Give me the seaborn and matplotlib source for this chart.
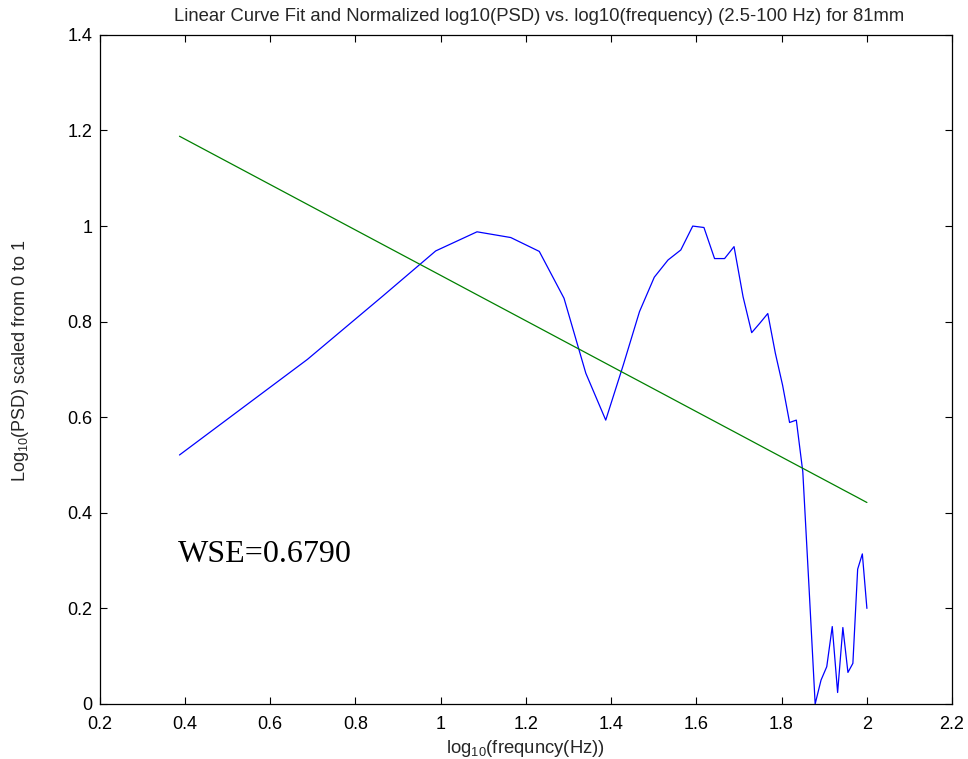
import matplotlib
matplotlib.use("Agg")
import matplotlib.pyplot as plt
import seaborn as sns
import pandas as pd

# log10 of the frequency bins (2.44 Hz spacing, 2.5-100 Hz)
log_freq = [0.3876, 0.6877, 0.8638, 0.9887, 1.0856, 1.1648, 1.2317, 1.2897,
            1.3409, 1.3876, 1.4290, 1.4668, 1.5015, 1.5337, 1.5637, 1.5917,
            1.6180, 1.6429, 1.6664, 1.6886, 1.7098, 1.7300, 1.7493, 1.7678,
            1.7855, 1.8025, 1.8189, 1.8347, 1.8499, 1.8647, 1.8789, 1.8927,
            1.9061, 1.9190, 1.9316, 1.9439, 1.9558, 1.9674, 1.9786, 1.9896,
            2.0003]

# normalized log10(PSD), scaled 0..1
psd_norm = [0.521, 0.721, 0.853, 0.948, 0.988, 0.976, 0.947, 0.849,
            0.692, 0.594, 0.710, 0.821, 0.893, 0.929, 0.950, 1.000,
            0.997, 0.932, 0.932, 0.957, 0.852, 0.777, 0.797, 0.817,
            0.734, 0.667, 0.589, 0.594, 0.486, 0.241, 0.000, 0.050,
            0.078, 0.162, 0.024, 0.160, 0.066, 0.085, 0.282, 0.314,
            0.200]

# linear fit evaluated at each bin
fit_line = [1.1880, 1.0454, 0.9617, 0.9024, 0.8563, 0.8187, 0.7869, 0.7593,
            0.7350, 0.7128, 0.6931, 0.6752, 0.6587, 0.6434, 0.6291, 0.6158,
            0.6033, 0.5915, 0.5803, 0.5698, 0.5597, 0.5501, 0.5409, 0.5321,
            0.5237, 0.5156, 0.5078, 0.5003, 0.4931, 0.4861, 0.4793, 0.4728,
            0.4664, 0.4603, 0.4543, 0.4484, 0.4428, 0.4373, 0.4320, 0.4267,
            0.4216]

wse_label = "WSE=0.6790"
x_ticks = [0.2, 0.4, 0.6, 0.8, 1.0, 1.2, 1.4, 1.6, 1.8, 2.0, 2.2]
x_tick_labels = ["0.2", "0.4", "0.6", "0.8", "1", "1.2", "1.4", "1.6", "1.8", "2", "2.2"]
y_ticks = [0, 0.2, 0.4, 0.6, 0.8, 1.0, 1.2, 1.4]
y_tick_labels = ["0", "0.2", "0.4", "0.6", "0.8", "1", "1.2", "1.4"]

sns.set_theme(style="ticks")
plt.rcParams["font.family"] = ["Liberation Sans", "DejaVu Sans"]
plt.rcParams["mathtext.fontset"] = "custom"
plt.rcParams["mathtext.rm"] = "Liberation Sans"
plt.rcParams["mathtext.it"] = "Liberation Sans:italic"

df = pd.DataFrame({"x": log_freq, "psd": psd_norm, "fit": fit_line})

fig = plt.figure(figsize=(9.68, 7.59), dpi=100)
ax = fig.add_axes([0.1028, 0.0725, 0.8807, 0.8815])

sns.lineplot(data=df, x="x", y="psd", ax=ax, color=(0, 0, 1), lw=0.9,
             estimator=None, sort=False)
sns.lineplot(data=df, x="x", y="fit", ax=ax, color=(0, 0.5, 0), lw=0.9,
             estimator=None, sort=False)

ax.set_xlim(0.2, 2.2)
ax.set_ylim(0, 1.4)
ax.set_xticks(x_ticks)
ax.set_xticklabels(x_tick_labels)
ax.set_yticks(y_ticks)
ax.set_yticklabels(y_tick_labels)

for side in ["top", "right", "bottom", "left"]:
    ax.spines[side].set_visible(True)
    ax.spines[side].set_color("black")
    ax.spines[side].set_linewidth(0.9)

ax.tick_params(axis="both", direction="in", length=5, width=0.8,
               top=True, right=True, labelsize=13, colors="black")
ax.tick_params(axis="x", pad=9)
ax.tick_params(axis="y", pad=5)

ax.set_title("Linear Curve Fit and Normalized log10(PSD) vs. log10(frequency) (2.5-100 Hz) for 81mm",
             fontsize=13.3, pad=10, x=0.516)
ax.set_xlabel(r"log$_{\mathregular{10}}$(frequncy(Hz))", fontsize=13.3, labelpad=3)
ax.set_ylabel(r"Log$_{\mathregular{10}}$(PSD) scaled from 0 to 1", fontsize=13)
ax.yaxis.set_label_coords(-0.08, 0.513)

ax.text(0.384, 0.297, wse_label, family="Liberation Serif", fontsize=23,
        ha="left", va="baseline", color="black")

fig.savefig("out.png", dpi=100, facecolor="white")
